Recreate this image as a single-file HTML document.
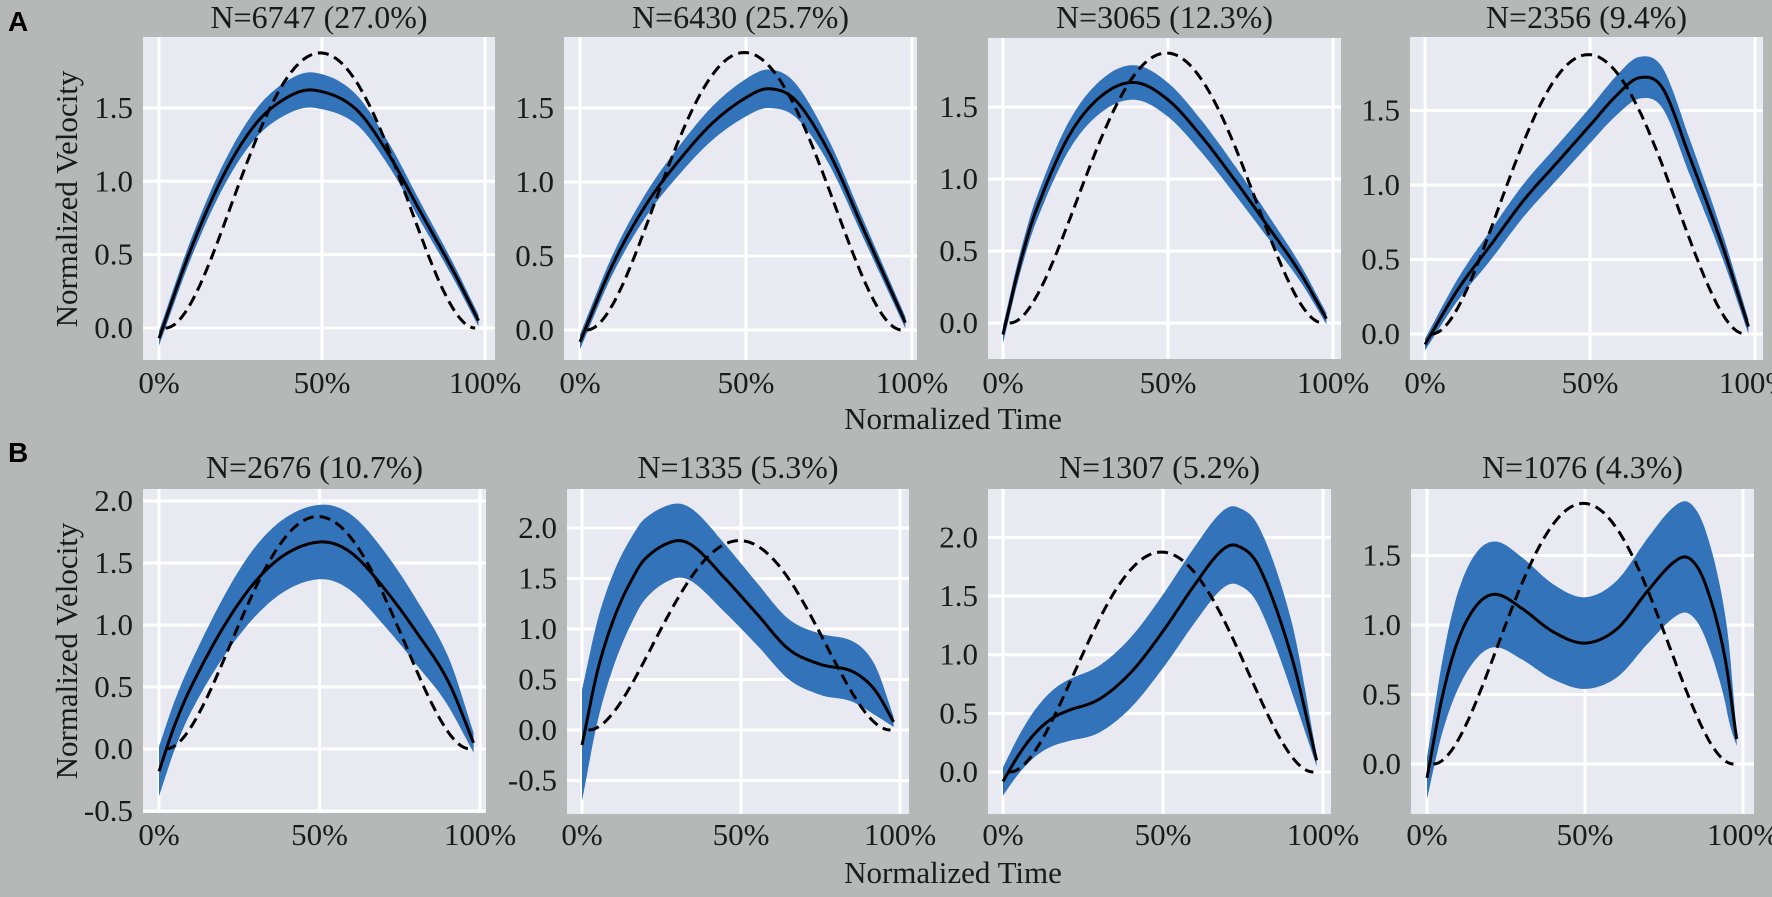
<!DOCTYPE html>
<html><head><meta charset="utf-8">
<style>
html,body{margin:0;padding:0;background:#b5b8b7;}
svg{display:block;}
text{font-family:"Liberation Serif",serif;fill:#1a1a1a;}
</style></head>
<body>
<svg id="s" width="1772" height="897" xmlns="http://www.w3.org/2000/svg">
<rect width="1772" height="897" fill="#b5b8b7"/>
<text x="8" y="31" style="font-family:'Liberation Sans',sans-serif;font-weight:bold;font-size:28px;fill:#000">A</text>
<text x="8" y="462" style="font-family:'Liberation Sans',sans-serif;font-weight:bold;font-size:28px;fill:#000">B</text>
<text x="953" y="429" font-size="31" text-anchor="middle">Normalized Time</text>
<text x="953" y="883" font-size="31" text-anchor="middle">Normalized Time</text>
<text transform="translate(77,199) rotate(-90)" font-size="31" text-anchor="middle">Normalized Velocity</text>
<text transform="translate(77,651) rotate(-90)" font-size="31" text-anchor="middle">Normalized Velocity</text>
</svg>
<script>
var P=[
{L:143,R:495,T:37,B:360,x0:159,x1:485,y0:328,u:146.7,ticks:[0,0.5,1,1.5],title:"N=6747 (27.0%)",tb:28,lb:393,
m:[[0,-0.07],[10,0.55],[20,1.05],[30,1.4],[40,1.58],[48,1.62],[60,1.5],[70,1.2],[80,0.8],[90,0.4],[98,0.05]],
h:[[0,0.05],[20,0.08],[48,0.12],[70,0.08],[98,0.04]]},
{L:564,R:917,T:37,B:360,x0:580,x1:912,y0:330,u:148,ticks:[0,0.5,1,1.5],title:"N=6430 (25.7%)",tb:28,lb:393,
m:[[0,-0.08],[10,0.45],[20,0.85],[30,1.15],[40,1.4],[50,1.57],[57,1.63],[65,1.55],[75,1.2],[85,0.7],[92,0.35],[98,0.05]],
h:[[0,0.05],[20,0.08],[57,0.13],[75,0.08],[98,0.04]]},
{L:988,R:1341,T:38,B:359,x0:1003,x1:1333,y0:323,u:144,ticks:[0,0.5,1,1.5],title:"N=3065 (12.3%)",tb:28,lb:393,
m:[[0,-0.08],[5,0.4],[10,0.78],[20,1.3],[30,1.58],[40,1.67],[50,1.55],[60,1.3],[70,1.0],[80,0.68],[90,0.35],[98,0.03]],
h:[[0,0.06],[20,0.1],[40,0.12],[70,0.1],[98,0.04]]},
{L:1410,R:1763,T:37,B:360,x0:1425,x1:1755,y0:334,u:149,ticks:[0,0.5,1,1.5],title:"N=2356 (9.4%)",tb:28,lb:393,
m:[[0,-0.07],[10,0.3],[20,0.6],[30,0.9],[40,1.15],[50,1.4],[58,1.6],[65,1.72],[72,1.65],[80,1.2],[90,0.6],[98,0.05]],
h:[[0,0.04],[20,0.1],[50,0.12],[65,0.14],[80,0.12],[98,0.05]]},
{L:143,R:486,T:489,B:813,x0:159,x1:480,y0:749,u:124,ticks:[-0.5,0,0.5,1,1.5,2],title:"N=2676 (10.7%)",tb:478,lb:845,
m:[[0,-0.18],[5,0.2],[10,0.5],[20,0.98],[30,1.35],[40,1.58],[51,1.67],[60,1.58],[70,1.3],[80,0.95],[90,0.55],[98,0.05]],
h:[[0,0.2],[10,0.2],[30,0.28],[50,0.3],[70,0.3],[90,0.2],[98,0.08]]},
{L:567,R:909,T:489,B:814,x0:582,x1:900,y0:730,u:101,ticks:[-0.5,0,0.5,1,1.5,2],title:"N=1335 (5.3%)",tb:478,lb:845,
m:[[0,-0.15],[5,0.6],[10,1.1],[15,1.45],[20,1.7],[29,1.87],[35,1.82],[45,1.5],[55,1.15],[65,0.8],[75,0.65],[85,0.58],[92,0.4],[98,0.08]],
h:[[0,0.55],[5,0.5],[20,0.4],[29,0.37],[40,0.35],[60,0.3],[85,0.3],[92,0.25],[98,0.05]]},
{L:988,R:1331,T:489,B:814,x0:1003,x1:1323,y0:772,u:117.3,ticks:[0,0.5,1,1.5,2],title:"N=1307 (5.2%)",tb:478,lb:845,
m:[[0,-0.08],[5,0.15],[10,0.33],[15,0.45],[20,0.52],[30,0.62],[40,0.85],[50,1.2],[60,1.6],[68,1.88],[73,1.93],[80,1.75],[90,1.0],[98,0.1]],
h:[[0,0.12],[10,0.2],[20,0.26],[40,0.3],[73,0.33],[90,0.3],[98,0.05]]},
{L:1411,R:1754,T:489,B:814,x0:1427,x1:1743,y0:764,u:139,ticks:[0,0.5,1,1.5],title:"N=1076 (4.3%)",tb:478,lb:845,
m:[[0,-0.1],[5,0.5],[10,0.9],[16,1.15],[22,1.22],[30,1.12],[40,0.95],[50,0.87],[60,0.97],[70,1.25],[78,1.45],[83,1.48],[88,1.3],[94,0.8],[98,0.18]],
h:[[0,0.15],[10,0.35],[22,0.38],[50,0.33],[83,0.4],[95,0.3],[98,0.05]]}
];
function cr(pts,t){
 var n=pts.length;
 if(t<=pts[0][0])return pts[0][1];
 if(t>=pts[n-1][0])return pts[n-1][1];
 var i=0;while(i<n-2&&t>pts[i+1][0])i++;
 var p0=pts[Math.max(i-1,0)],p1=pts[i],p2=pts[i+1],p3=pts[Math.min(i+2,n-1)];
 var s=(t-p1[0])/(p2[0]-p1[0]);
 var d=p2[0]-p1[0];
 var m1=(p2[1]-p0[1])/(p2[0]-p0[0]||1)*d, m2=(p3[1]-p1[1])/(p3[0]-p1[0]||1)*d;
 if(i==0)m1=(p2[1]-p1[1]);
 if(i+2>n-1)m2=(p2[1]-p1[1]);
 var s2=s*s,s3=s2*s;
 return (2*s3-3*s2+1)*p1[1]+(s3-2*s2+s)*m1+(-2*s3+3*s2)*p2[1]+(s3-s2)*m2;
}
var NS="http://www.w3.org/2000/svg",svg=document.getElementById("s");
function el(tag,a,txt){var e=document.createElementNS(NS,tag);for(var k in a)e.setAttribute(k,a[k]);if(txt!=null)e.textContent=txt;svg.appendChild(e);return e;}
P.forEach(function(p,idx){
 var X=function(t){return p.x0+(p.x1-p.x0)*t/100;},Y=function(v){return p.y0-v*p.u;};
 var defs=el("clipPath",{id:"c"+idx});
 var r=document.createElementNS(NS,"rect");r.setAttribute("x",p.L);r.setAttribute("y",p.T);r.setAttribute("width",p.R-p.L);r.setAttribute("height",p.B-p.T);defs.appendChild(r);
 el("rect",{x:p.L,y:p.T,width:p.R-p.L,height:p.B-p.T,fill:"#e9eaf1"});
 p.ticks.forEach(function(v){
  el("line",{x1:p.L,x2:p.R,y1:Y(v),y2:Y(v),stroke:"#fff","stroke-width":3});
  el("text",{x:p.L-10,y:Y(v)+10,"font-size":31,"text-anchor":"end"},v==-0.5?"-0.5":v.toFixed(1));
 });
 [0,50,100].forEach(function(t){
  el("line",{x1:X(t),x2:X(t),y1:p.T,y2:p.B,stroke:"#fff","stroke-width":3});
  el("text",{x:X(t),y:p.lb,"font-size":31,"text-anchor":"middle"},t+"%");
 });
 el("text",{x:(p.L+p.R)/2,y:p.tb,"font-size":32,"text-anchor":"middle"},p.title);
 var up=[],lo=[],mn=[];
 for(var t=0;t<=98.001;t+=0.5){
  var v=cr(p.m,t),h=cr(p.h,t);
  up.push(X(t).toFixed(1)+","+Y(v+h).toFixed(1));
  lo.push(X(t).toFixed(1)+","+Y(v-h).toFixed(1));
  mn.push(X(t).toFixed(1)+","+Y(v).toFixed(1));
 }
 el("polygon",{points:up.concat(lo.reverse()).join(" "),fill:"#3373b9","clip-path":"url(#c"+idx+")"});
 var ds=[];
 for(var t=2;t<=97.001;t+=0.5){var s=(t-2)/95;var v=30*s*s*(1-s)*(1-s);ds.push(X(t).toFixed(1)+","+Y(v).toFixed(1));}
 el("polyline",{points:ds.join(" "),fill:"none",stroke:"#000","stroke-width":3,"stroke-dasharray":"11,6"});
 el("polyline",{points:mn.join(" "),fill:"none",stroke:"#000","stroke-width":3,"stroke-linejoin":"round"});
});
</script>
</body></html>
